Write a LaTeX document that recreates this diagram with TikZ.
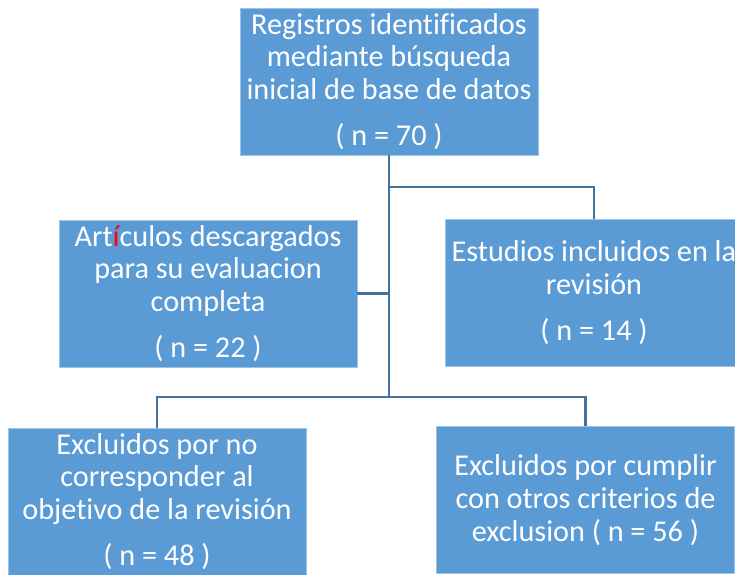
\documentclass[tikz,border=0pt]{standalone}
\usepackage{fontspec}
\setmainfont[Ligatures=NoCommon]{Carlito}
\usepackage{xcolor}
\usepackage{tikz}
\usetikzlibrary{positioning}
\definecolor{boxblue}{RGB}{91,155,213}
\definecolor{lineblue}{RGB}{65,113,156}

\begin{document}
\begin{tikzpicture}[x=0.02cm, y=-0.02cm, % 1 unit = 1 px of the page
			block/.style={
					rectangle,
					draw=boxblue!60!white,
					fill=boxblue,
					text=white,
					minimum width=5.96cm,
					minimum height=2.94cm,
					align=center,
					inner sep=0pt,
					font=\fontsize{17.2}{18.7}\selectfont
				},
			line/.style={draw=lineblue, line width=1.5pt}
		]
		\useasboundingbox (0,0) rectangle (735,575);
		% Place nodes
		\node [block] (registros) at (389,81.5) {Registros identificados\\ mediante búsqueda\\ inicial de base de datos\\[7.5pt] ( n = 70 )};
		\node [block] (articulos) at (208,293.5) {Art\textcolor{red}{í}culos descargados\\ para su evaluacion\\ completa\\[7.5pt] ( n = 22 )};
		\node [block] (estudios) at (594,292.5) {Estudios incluidos en la\\ revisión\\[7.5pt] ( n = 14 )};
		\node [block] (noobjetivo) at (157,501.5) {Excluidos por no\\ corresponder al\\ objetivo de la revisión\\[7.5pt] ( n = 48 )};
		\node [block] (criterios) at (585.5,500) {Excluidos por cumplir\\ con otros criterios de\\ exclusion ( n = 56 )};
		\coordinate (branch) at (389,187);
		\coordinate (trunk) at (389,397);
		% Draw edges
		\path [line] (registros) -- (trunk);
		\path [line] (branch) -| (estudios);
		\path [line] (articulos.east) -- (articulos.east -| trunk);
		\path [line] (trunk) -| (noobjetivo);
		\path [line] (trunk) -| (criterios);
	\end{tikzpicture}
\end{document}
